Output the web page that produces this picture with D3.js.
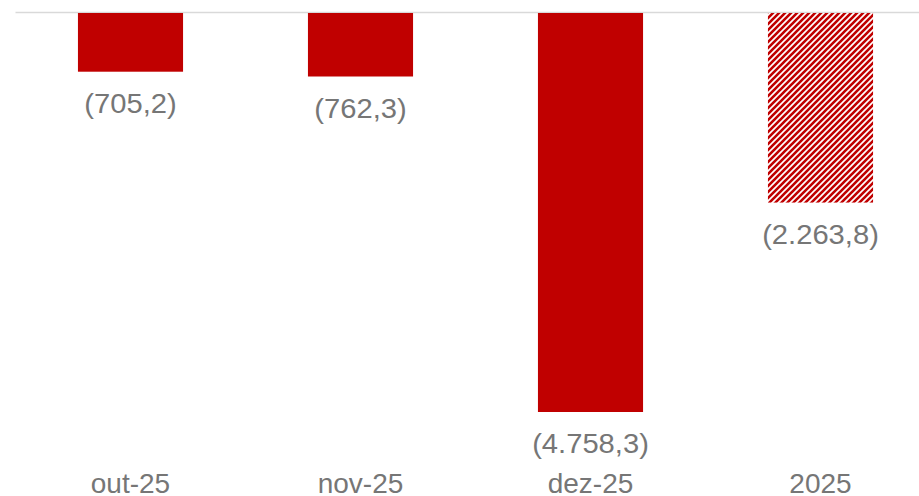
<!DOCTYPE html>
<html>
<head>
<meta charset="utf-8">
<script src="https://cdn.jsdelivr.net/npm/d3@7"></script>
<style>
  body { margin: 0; background: #fff; }
  text { font-family: Arial, "Liberation Sans", sans-serif; fill: #767676; }
</style>
</head>
<body>
<div id="chart"></div>
<script>
// data
var categories = ['out-25', 'nov-25', 'dez-25', '2025'];
var values = [-705.2, -762.3, -4758.3, -2263.8];
var valueLabels = ['(705,2)', '(762,3)', '(4.758,3)', '(2.263,8)'];
var hatched = [false, false, false, true];

var W = 919, H = 496;
var m = {t:12.5, l:15.5};

var svg = d3.select('#chart').append('svg')
	.attr('width', W)
	.attr('height', H);

// stripe pattern for the year bar
var P = 6;
var pat = svg.append('defs').append('pattern')
	.attr('id', 'stripes')
	.attr('patternUnits', 'userSpaceOnUse')
	.attr('width', P).attr('height', P);
pat.append('rect').attr('width', P).attr('height', P).attr('fill', '#fff');
pat.append('path')
	.attr('d', 'M-1.5,1.5 L1.5,-1.5 M0,6 L6,0 M4.5,7.5 L7.5,4.5')
	.attr('stroke', '#c00000')
	.attr('stroke-width', 2.6);

var scaleX = d3.scaleBand()
	.domain(categories)
	.range([m.l, m.l + 230 * 4])
	.paddingInner(0.543)
	.paddingOuter(0.2715);

var scaleY = d3.scaleLinear()
	.domain([0, -4758.3])
	.range([m.t, 412]);

// zero line
svg.append('line')
	.attr('x1', m.l).attr('x2', W)
	.attr('y1', scaleY(0)).attr('y2', scaleY(0))
	.attr('stroke', '#d9d9d9')
	.attr('stroke-width', 1.5);

svg.selectAll('.bar')
	.data(values)
	.enter()
	.append('rect').attr('class', 'bar')
	.attr('x', function(d, i){ return scaleX(categories[i]); })
	.attr('width', scaleX.bandwidth())
	.attr('y', scaleY(0) + 0.5)
	.attr('height', function(d){ return scaleY(d) - scaleY(0) - 0.5; })
	.attr('fill', function(d, i){ return hatched[i] ? 'url(#stripes)' : '#c00000'; });

// value labels
svg.selectAll('.val')
	.data(values)
	.enter()
	.append('text').attr('class', 'val')
	.attr('text-anchor', 'middle')
	.attr('font-size', 27)
	.attr('transform', function(d, i){
		var x = scaleX(categories[i]) + scaleX.bandwidth() / 2;
		return 'translate(' + x + ',' + (scaleY(d) + 41) + ') scale(1.08,1)';
	})
	.text(function(d, i){ return valueLabels[i]; });

// category axis
var xAxis = d3.axisBottom(scaleX).tickSize(0).tickPadding(0);
var gx = svg.append('g').attr('class', 'axis')
	.attr('transform', 'translate(0,' + 493 + ')')
	.call(xAxis);
gx.select('.domain').remove();
gx.selectAll('text')
	.attr('font-size', 28)
	.attr('dy', 0)
	.attr('y', 0)
	.attr('fill', '#767676')
	.style('font-family', 'Arial, "Liberation Sans", sans-serif');
</script>
</body>
</html>
